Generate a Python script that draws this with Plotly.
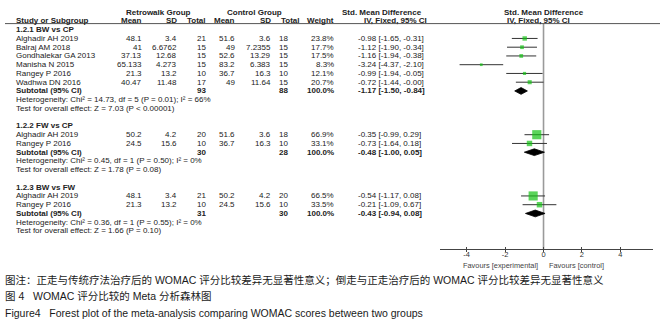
import plotly.graph_objects as go

W, H = 663, 324

# ---------------- data ----------------
group_labels = ["1.2.1 BW vs CP", "1.2.2 FW vs CP", "1.2.3 BW vs FW"]
study_group = [0, 0, 0, 0, 0, 0, 1, 1, 2, 2]
study_names = ["Alghadir AH 2019", "Balraj AM 2018", "Gondhalekar GA 2013", "Manisha N 2015",
               "Rangey P 2016", "Wadhwa DN 2016", "Alghadir AH 2019", "Rangey P 2016",
               "Alghadir AH 2019", "Rangey P 2016"]
exp_mean = [48.1, 41, 37.13, 65.133, 21.3, 40.47, 50.2, 24.5, 48.1, 21.3]
exp_sd = [3.4, 6.6762, 12.68, 4.273, 13.2, 11.48, 4.2, 15.6, 3.4, 13.2]
exp_n = [21, 15, 15, 15, 10, 17, 20, 10, 21, 10]
ctl_mean = [51.6, 49, 52.6, 83.2, 36.7, 49, 51.6, 36.7, 50.2, 24.5]
ctl_sd = [3.6, 7.2355, 13.29, 6.383, 16.3, 11.64, 3.6, 16.3, 4.2, 15.6]
ctl_n = [18, 15, 15, 15, 10, 15, 18, 10, 20, 10]
weight = [23.8, 17.7, 17.5, 8.3, 12.1, 20.7, 66.9, 33.1, 66.5, 33.5]
smd = [-0.98, -1.12, -1.16, -3.24, -0.99, -0.72, -0.35, -0.73, -0.54, -0.21]
ci_lo = [-1.65, -1.90, -1.94, -4.37, -1.94, -1.44, -0.99, -1.64, -1.17, -1.09]
ci_hi = [-0.31, -0.34, -0.38, -2.10, -0.05, -0.00, 0.29, 0.18, 0.08, 0.67]

sub_exp_n = [93, 30, 31]
sub_ctl_n = [88, 28, 30]
sub_smd = [-1.17, -0.48, -0.43]
sub_lo = [-1.50, -1.00, -0.94]
sub_hi = [-0.84, 0.05, 0.08]
het_chi2 = [14.73, 0.45, 0.36]
het_df = [5, 1, 1]
het_p = ["0.01", "0.50", "0.55"]
het_i2 = [66, 0, 0]
z_val = [7.03, 1.78, 1.66]
z_p = ["< 0.00001", "= 0.08", "= 0.10"]

tick_vals = [-4, -2, 0, 2, 4]
tick_text = ["-4", "-2", "0", "2", "4"]

caption1 = "图注：正走与传统疗法治疗后的 WOMAC 评分比较差异无显著性意义；倒走与正走治疗后的 WOMAC 评分比较差异无显著性意义"
caption2 = "图 4\u00a0\u00a0\u00a0WOMAC 评分比较的 Meta 分析森林图"
caption3 = "Figure4\u00a0\u00a0\u00a0Forest plot of the meta-analysis comparing WOMAC scores between two groups"

# ---------------- layout helpers ----------------
FONT = "Liberation Sans, Arial, sans-serif"
CJK = "Liberation Sans, Noto Sans CJK SC, sans-serif"
TXT = "#222222"
GREEN = "#14c214"

Y0, STEP = 29.7, 8.75
AX_Y = 249.0

annotations = []
shapes = []


def txt(x, y, s, anchor="left", size=8, bold=False, color=TXT, family=FONT):
    annotations.append(dict(
        x=x / W, y=1 - y / H, xref="paper", yref="paper",
        text=f"<b>{s}</b>" if bold else s, showarrow=False,
        xanchor=anchor, yanchor="middle", borderpad=0,
        font=dict(family=family, size=size, color=color)))


def fmt(v):
    return f"{v:g}"


def ci_text(e, lo, hi):
    return f"{e:.2f} [{lo:.2f}, {hi:.2f}]"


X_NAME, X_EM, X_ESD, X_EN = 15, 143, 178, 207
X_CM, X_CSD, X_CN, X_W, X_CI = 236, 272, 289, 335, 357

# headers
txt(158, 12.7, "Retrowalk Group", "center", bold=True)
txt(254, 12.7, "Control Group", "center", bold=True)
txt(382, 12.7, "Std. Mean Difference", "center", bold=True)
txt(544, 12.7, "Std. Mean Difference", "center", bold=True)
hy = 20.2
txt(X_NAME, hy, "Study or Subgroup", bold=True)
txt(X_EM, hy, "Mean", "right", bold=True)
txt(X_ESD, hy, "SD", "right", bold=True)
txt(X_EN, hy, "Total", "right", bold=True)
txt(X_CM, hy, "Mean", "right", bold=True)
txt(X_CSD, hy, "SD", "right", bold=True)
txt(280, hy, "Total", "left", bold=True)
txt(X_W, hy, "Weight", "right", bold=True)
txt(395, hy, "IV, Fixed, 95% CI", "center", bold=True)
txt(538, hy, "IV, Fixed, 95% CI", "center", bold=True)

shapes.append(dict(type="line", xref="paper", yref="paper",
                   x0=5 / W, x1=660 / W, y0=1 - 23.6 / H, y1=1 - 23.6 / H,
                   line=dict(color="#555555", width=1)))

# rows
ci_x, ci_y = [], []
sq_x, sq_y, sq_s = [], [], []
dia_x, dia_y = [], []

row = 0
for g, label in enumerate(group_labels):
    y = Y0 + STEP * row
    txt(X_NAME, y, label, bold=True)
    row += 1
    for i, sg in enumerate(study_group):
        if sg != g:
            continue
        y = Y0 + STEP * row
        txt(X_NAME, y, study_names[i])
        txt(X_EM, y, fmt(exp_mean[i]), "right")
        txt(X_ESD, y, fmt(exp_sd[i]), "right")
        txt(X_EN, y, str(exp_n[i]), "right")
        txt(X_CM, y, fmt(ctl_mean[i]), "right")
        txt(X_CSD, y, fmt(ctl_sd[i]), "right")
        txt(X_CN, y, str(ctl_n[i]), "right")
        txt(X_W, y, f"{weight[i]:.1f}%", "right")
        txt(X_CI, y, ci_text(smd[i], ci_lo[i], ci_hi[i]))
        ci_x += [ci_lo[i], ci_hi[i], None]
        ci_y += [y, y, None]
        sq_x.append(smd[i])
        sq_y.append(y)
        sq_s.append(1.8 + 0.11 * weight[i])
        row += 1
    y = Y0 + STEP * row
    txt(X_NAME, y, "Subtotal (95% CI)", bold=True)
    txt(X_EN, y, str(sub_exp_n[g]), "right", bold=True)
    txt(X_CN, y, str(sub_ctl_n[g]), "right", bold=True)
    txt(X_W, y, "100.0%", "right", bold=True)
    txt(X_CI, y, ci_text(sub_smd[g], sub_lo[g], sub_hi[g]), bold=True)
    h = 3.4
    dia_x += [sub_lo[g], sub_smd[g], sub_hi[g], sub_smd[g], sub_lo[g], None]
    dia_y += [y, y - h, y, y + h, y, None]
    row += 1
    y = Y0 + STEP * row
    txt(X_NAME, y, f"Heterogeneity: Chi² = {het_chi2[g]:.2f}, df = {het_df[g]} (P = {het_p[g]}); I² = {het_i2[g]}%")
    row += 1
    y = Y0 + STEP * row
    txt(X_NAME, y, f"Test for overall effect: Z = {z_val[g]:.2f} (P {z_p[g]})")
    row += 2

# favours labels
txt(539, 265, "Favours [experimental]", "right", size=7.4, color="#444444")
txt(548, 265, "Favours [control]", "left", size=7.4, color="#444444")

# captions
txt(4, 279.5, caption1, size=10.5, family=CJK, color="#1a1a1a")
txt(4, 296, caption2, size=10.5, family=CJK, color="#1a1a1a")
txt(4, 313, caption3, size=10.5, family=CJK, color="#1a1a1a")

# zero line
shapes.append(dict(type="line", xref="x", yref="y", x0=0, x1=0, y0=23.6, y1=AX_Y,
                   line=dict(color="#9a9a9a", width=1.6), layer="below"))

fig = go.Figure()
fig.add_trace(go.Scatter(x=ci_x, y=ci_y, mode="lines",
                         line=dict(color="#333333", width=1), hoverinfo="skip"))
fig.add_trace(go.Scatter(x=sq_x, y=sq_y, mode="markers",
                         marker=dict(symbol="square", size=sq_s, color=GREEN,
                                     line=dict(width=0)), hoverinfo="skip"))
fig.add_trace(go.Scatter(x=dia_x, y=dia_y, mode="lines", fill="toself",
                         fillcolor="#000000", line=dict(color="#000000", width=0.8),
                         hoverinfo="skip"))

x_range = [-5.39, 5.70]
dom = [440 / W, 653 / W]
fig.update_layout(
    width=W, height=H, margin=dict(l=0, r=0, t=0, b=0),
    paper_bgcolor="white", plot_bgcolor="white", showlegend=False,
    xaxis=dict(domain=dom, range=x_range, showgrid=False, zeroline=False,
               showline=True, linecolor="#444444", linewidth=1,
               ticks="outside", ticklen=2, tickcolor="#444444", tickwidth=1,
               tickvals=tick_vals, ticktext=tick_text, ticklabelstandoff=-4,
               tickfont=dict(family=FONT, size=7.5, color="#333333"), anchor="y"),
    xaxis2=dict(domain=dom, range=x_range, overlaying="x", anchor="y",
                showgrid=False, zeroline=False, showline=False,
                ticks="inside", ticklen=2, tickcolor="#444444", tickwidth=1,
                tickvals=tick_vals, showticklabels=False),
    yaxis=dict(domain=[(H - AX_Y) / H, 1], range=[AX_Y, 0], visible=False),
    annotations=annotations, shapes=shapes,
)
fig.add_trace(go.Scatter(x=[None], y=[None], xaxis="x2", yaxis="y", showlegend=False))

fig.write_html("out.html", config={"displayModeBar": False},
               post_script="document.body.style.margin='0';document.body.style.padding='0';")
